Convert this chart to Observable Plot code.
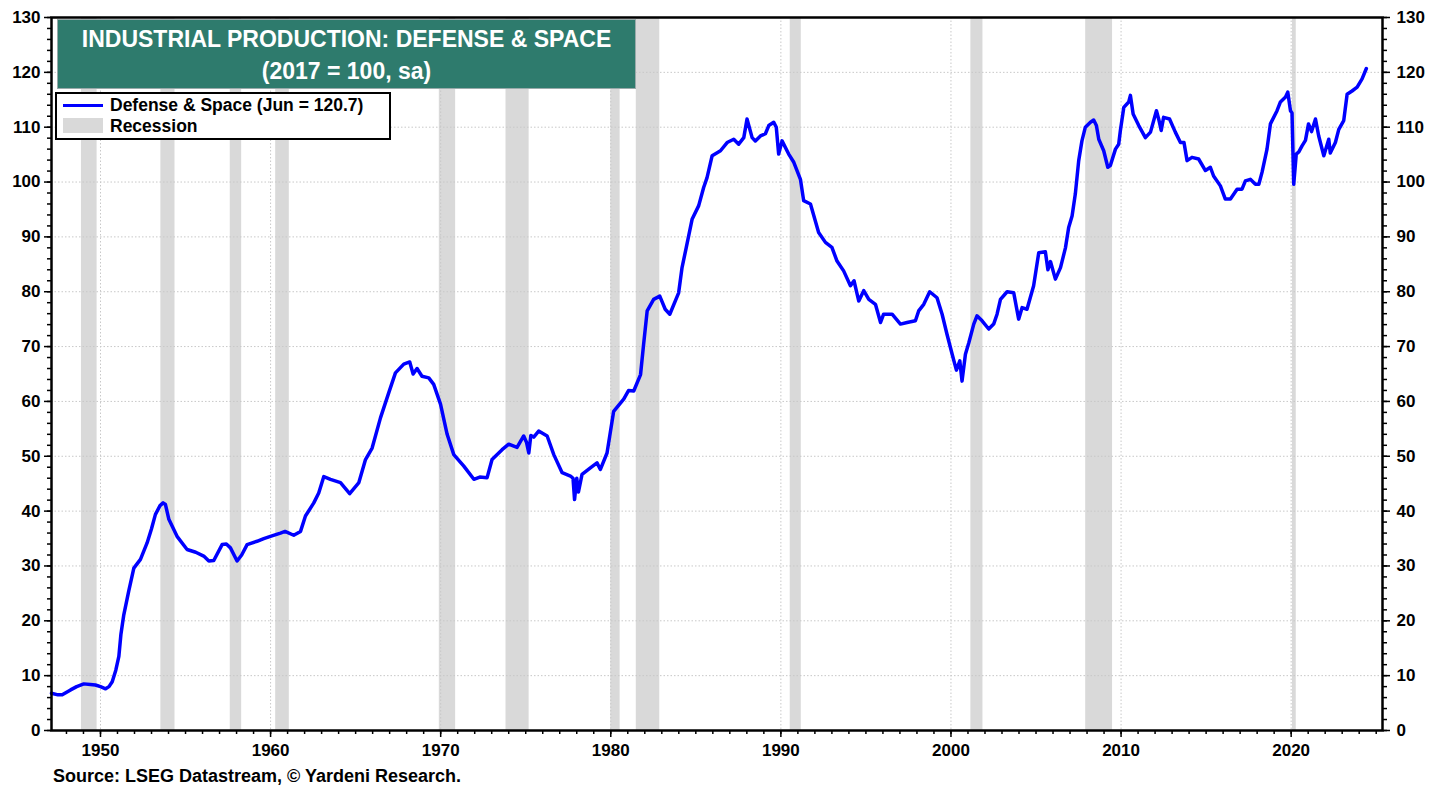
<!DOCTYPE html>
<html><head><meta charset="utf-8">
<script src="https://cdn.jsdelivr.net/npm/d3@7"></script>
<script src="https://cdn.jsdelivr.net/npm/@observablehq/plot@0.6"></script>
<style>
body{margin:0;background:#fff;font-family:"Liberation Sans",Arial,sans-serif;}
#wrap{position:relative;width:1446px;height:790px;}
#title{position:absolute;left:57px;top:19px;width:579px;height:70px;background:#2e7b6d;color:#fff;font-weight:bold;font-size:23px;text-align:center;line-height:32px;box-sizing:border-box;padding-top:3px;border:1px solid #9aa;}
#legend{position:absolute;left:55px;top:92px;width:336px;height:48px;background:#fff;border:2px solid #000;box-sizing:border-box;font-weight:bold;font-size:17.5px;line-height:20px;}
#legend .row{position:absolute;left:53px;}
#caption{position:absolute;left:53px;top:766px;font-weight:bold;font-size:18px;color:#000;}
</style></head><body>
<div id="wrap">
<div id="chart"></div>
<div id="title">INDUSTRIAL PRODUCTION: DEFENSE &amp; SPACE<br>(2017 = 100, sa)</div>
<div id="legend">
<div style="position:absolute;left:6px;top:10px;width:40px;height:3px;background:#0000ff"></div>
<div class="row" style="top:1px">Defense &amp; Space (Jun = 120.7)</div>
<div style="position:absolute;left:6px;top:24px;width:40px;height:15px;background:#d9d9d9"></div>
<div class="row" style="top:22px">Recession</div>
</div>
<div id="caption">Source: LSEG Datastream, © Yardeni Research.</div>
</div>
<script>
const dates = [1947.12,1947.5,1947.75,1948.24,1948.6,1949.02,1949.4,1949.7,1950.0,1950.3,1950.5,1950.69,1950.9,1951.08,1951.2,1951.37,1951.66,1951.96,1952.35,1952.74,1953.0,1953.23,1953.5,1953.68,1953.82,1954.02,1954.5,1955.09,1955.6,1956.07,1956.37,1956.66,1957.15,1957.4,1957.64,1958.03,1958.3,1958.62,1959.2,1959.6,1959.99,1960.58,1960.85,1961.36,1961.76,1962.05,1962.54,1962.83,1963.13,1963.52,1964.11,1964.65,1965.19,1965.58,1965.97,1966.46,1966.95,1967.34,1967.83,1968.18,1968.38,1968.61,1968.9,1969.3,1969.59,1969.99,1970.38,1970.77,1971.36,1971.95,1972.3,1972.73,1973.02,1973.61,1974.0,1974.49,1974.88,1975.05,1975.18,1975.3,1975.47,1975.76,1976.26,1976.65,1977.14,1977.63,1977.78,1977.87,1978.0,1978.1,1978.31,1978.8,1979.19,1979.39,1979.78,1980.17,1980.76,1981.05,1981.35,1981.75,1981.93,1982.14,1982.52,1982.88,1983.2,1983.47,1983.99,1984.19,1984.44,1984.78,1985.17,1985.46,1985.66,1985.96,1986.45,1986.84,1987.23,1987.52,1987.82,1988.01,1988.31,1988.5,1988.8,1989.09,1989.29,1989.58,1989.73,1989.87,1990.07,1990.46,1990.76,1991.15,1991.34,1991.74,1992.22,1992.62,1993.0,1993.3,1993.69,1994.09,1994.3,1994.58,1994.87,1995.17,1995.56,1995.86,1996.04,1996.54,1997.03,1997.42,1997.91,1998.1,1998.4,1998.75,1999.18,1999.48,1999.77,2000.07,2000.32,2000.52,2000.65,2000.85,2001.05,2001.34,2001.53,2001.83,2002.22,2002.51,2002.71,2002.91,2003.3,2003.69,2003.98,2004.18,2004.47,2004.86,2005.16,2005.55,2005.7,2005.85,2006.14,2006.44,2006.73,2006.92,2007.12,2007.31,2007.51,2007.7,2007.9,2008.2,2008.39,2008.55,2008.69,2008.98,2009.22,2009.37,2009.67,2009.86,2009.96,2010.16,2010.45,2010.55,2010.71,2011.04,2011.43,2011.73,2012.08,2012.21,2012.36,2012.5,2012.85,2013.19,2013.49,2013.7,2013.88,2014.17,2014.56,2014.96,2015.25,2015.44,2015.84,2016.13,2016.43,2016.82,2017.11,2017.31,2017.6,2017.9,2018.1,2018.29,2018.58,2018.78,2019.17,2019.37,2019.67,2019.8,2019.96,2020.05,2020.15,2020.3,2020.45,2020.64,2020.84,2021.02,2021.2,2021.43,2021.62,2021.92,2022.21,2022.3,2022.6,2022.8,2023.09,2023.29,2023.58,2023.88,2024.17,2024.42];
const values = [6.8,6.5,6.5,7.4,8.0,8.5,8.4,8.3,8.0,7.6,8.0,8.9,11.0,13.5,17.5,21.1,25.4,29.6,31.2,34.2,36.8,39.4,41.0,41.5,41.2,38.5,35.4,33.0,32.5,31.8,30.9,31.0,33.9,34.0,33.3,30.9,32.0,33.9,34.5,35.0,35.4,36.0,36.3,35.6,36.3,39.1,41.5,43.3,46.3,45.8,45.2,43.2,45.2,49.4,51.5,57.0,61.6,65.2,66.8,67.2,65.0,66.0,64.6,64.3,63.1,59.5,54.0,50.3,48.2,45.8,46.2,46.1,49.4,51.2,52.2,51.6,53.7,52.5,50.6,53.8,53.5,54.6,53.7,50.3,47.0,46.4,46.0,42.1,46.0,43.5,46.7,47.9,48.8,47.6,50.6,58.2,60.4,62.0,61.9,64.9,70.4,76.5,78.6,79.2,76.8,75.9,79.8,84.4,88.1,93.2,95.7,99.0,100.8,104.8,105.7,107.2,107.8,106.9,108.1,111.5,108.1,107.5,108.4,108.8,110.3,110.9,110.0,105.1,107.5,105.1,103.6,100.5,96.6,96.0,90.8,89.0,88.1,85.6,83.8,81.1,82.0,78.3,80.2,78.6,77.7,74.4,75.9,75.9,74.1,74.4,74.7,76.5,77.7,80.0,78.9,75.9,72.2,68.6,65.7,67.4,63.7,68.6,70.7,74.1,75.6,74.7,73.2,74.1,75.9,78.6,80.0,79.8,75.0,77.1,76.8,81.1,87.1,87.3,84.0,85.5,82.3,84.4,88.0,91.7,93.8,97.8,103.9,107.5,110.0,110.9,111.3,110.3,107.8,105.7,102.7,103.0,106.0,106.9,109.4,113.6,114.6,115.8,112.4,110.3,108.1,109.1,113.0,111.5,109.4,111.8,111.5,109.1,107.2,107.2,103.9,104.5,104.2,102.1,102.7,101.1,99.3,96.9,96.9,98.7,98.7,100.2,100.5,99.6,99.6,101.8,106.0,110.6,113.0,114.6,115.5,116.4,113.0,112.6,99.6,105.1,105.5,106.6,107.6,110.6,109.2,111.5,108.4,104.8,107.8,105.3,107.2,109.6,111.2,116.0,116.6,117.3,118.8,120.7];
const recessionStart = [1948.88,1953.55,1957.63,1960.3,1969.92,1973.84,1980.0,1981.5,1990.55,2001.17,2007.92,2020.08];
const recessionEnd   = [1949.8,1954.38,1958.3,1961.1,1970.88,1975.2,1980.55,1982.88,1991.2,2001.88,2009.5,2020.3];
const yTicks = d3.range(0, 131, 10);
const yMinor = d3.range(0, 131, 2);
const xTicks = d3.range(1950, 2021, 10);
const xMinor = d3.range(1948, 2026, 1);

const series = dates.map((d, i) => ({date: d, value: values[i]}));
const recessions = recessionStart.map((s, i) => ({start: s, end: recessionEnd[i]}));

const font = {fontSize: 17, fontWeight: "bold"};
const chart = Plot.plot({
  width: 1446, height: 765,
  marginLeft: 51, marginRight: 64, marginTop: 17, marginBottom: 35,
  style: {fontFamily: "Liberation Sans, Arial, sans-serif", color: "#000", background: "transparent"},
  x: {domain: [1947.12, 2025.37], axis: null},
  y: {domain: [0, 130], axis: null},
  marks: [
    Plot.rect(recessions, {x1: "start", x2: "end", y1: 0, y2: 130, fill: "#d9d9d9"}),
    Plot.ruleY(yTicks.filter(d => d > 0 && d < 130), {stroke: "#c8c8c8", strokeWidth: 1, strokeDasharray: "1.5,2"}),
    Plot.ruleX(xTicks, {stroke: "#c8c8c8", strokeWidth: 1, strokeDasharray: "1.5,2"}),
    Plot.line(series, {x: "date", y: "value", stroke: "#0000ff", strokeWidth: 3.5, strokeLinejoin: "round"}),
    Plot.frame({stroke: "#000", strokeWidth: 2.5}),
    Plot.axisY(yMinor, {anchor: "left", tickSize: 4, text: null, label: null, strokeWidth: 1.5}),
    Plot.axisY(yTicks, {anchor: "left", tickSize: 7, tickPadding: 4, strokeWidth: 1.5, label: null, ...font}),
    Plot.axisY(yMinor, {anchor: "right", tickSize: 4, text: null, label: null, strokeWidth: 1.5}),
    Plot.axisY(yTicks, {anchor: "right", tickSize: 7, tickPadding: 7, strokeWidth: 1.5, label: null, ...font}),
    Plot.axisX(xMinor, {anchor: "bottom", tickSize: 4, text: null, label: null, strokeWidth: 1.5}),
    Plot.axisX(xTicks, {anchor: "bottom", tickSize: 7, tickPadding: 6, strokeWidth: 1.5, label: null, tickFormat: d => String(d), ...font})
  ]
});
document.getElementById("chart").appendChild(chart);
</script>
</body></html>
